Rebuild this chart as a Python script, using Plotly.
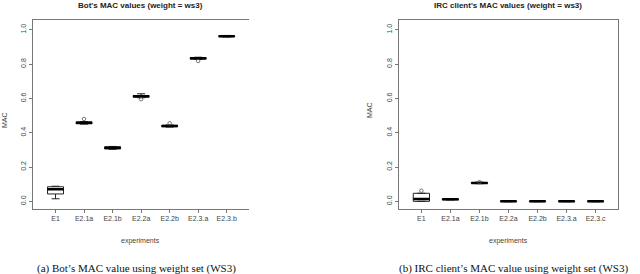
import plotly.graph_objects as go

categories = ["E1", "E2.1a", "E2.1b", "E2.2a", "E2.2b", "E2.3a", "E2.3b"]
tick_labels_a = ["E1", "E2.1a", "E2.1b", "E2.2a", "E2.2b", "E2.3.a", "E2.3.b"]
tick_labels_b = ["E1", "E2.1a", "E2.1b", "E2.2a", "E2.2b", "E2.3.a", "E2.3.c"]

# Panel (a): Bot's MAC values
bot_q1 = [0.043, 0.452, 0.305, 0.607, 0.435, 0.829, 0.960]
bot_med = [0.070, 0.458, 0.312, 0.612, 0.439, 0.834, 0.962]
bot_q3 = [0.085, 0.463, 0.318, 0.617, 0.443, 0.838, 0.965]
bot_lo = [0.015, 0.450, 0.303, 0.604, 0.433, 0.827, 0.958]
bot_hi = [0.088, 0.465, 0.320, 0.627, 0.445, 0.840, 0.967]
bot_out_x = ["E2.1a", "E2.2a", "E2.2b", "E2.3a"]
bot_out_y = [0.480, 0.595, 0.455, 0.818]

# Panel (b): IRC client's MAC values
irc_q1 = [0.000, 0.009, 0.104, -0.002, -0.002, -0.002, -0.002]
irc_med = [0.013, 0.012, 0.107, 0.000, 0.000, 0.000, 0.000]
irc_q3 = [0.047, 0.014, 0.110, 0.001, 0.001, 0.001, 0.001]
irc_lo = [0.000, 0.008, 0.103, -0.002, -0.002, -0.002, -0.002]
irc_hi = [0.047, 0.015, 0.112, 0.001, 0.001, 0.001, 0.001]
irc_out_x = ["E1", "E2.1b"]
irc_out_y = [0.062, 0.112]

y_ticks = [0.0, 0.2, 0.4, 0.6, 0.8, 1.0]

fig = go.Figure()

def add_panel(xa, ya, q1, med, q3, lo, hi, ox, oy):
    fig.add_trace(go.Box(
        x=categories, q1=q1, median=med, q3=q3, lowerfence=lo, upperfence=hi,
        xaxis=xa, yaxis=ya, fillcolor="white", line=dict(color="#222", width=1),
        whiskerwidth=0.5, showlegend=False, hoverinfo="skip"))
    fig.add_trace(go.Box(
        x=categories, q1=med, median=med, q3=med, lowerfence=med, upperfence=med,
        xaxis=xa, yaxis=ya, fillcolor="rgba(0,0,0,0)", line=dict(color="black", width=2.5),
        whiskerwidth=0, showlegend=False, hoverinfo="skip"))
    fig.add_trace(go.Scatter(
        x=ox, y=oy, mode="markers", xaxis=xa, yaxis=ya,
        marker=dict(symbol="circle-open", size=3.5, color="#555", line=dict(width=0.8)),
        showlegend=False, hoverinfo="skip"))

add_panel("x", "y", bot_q1, bot_med, bot_q3, bot_lo, bot_hi, bot_out_x, bot_out_y)
add_panel("x2", "y2", irc_q1, irc_med, irc_q3, irc_lo, irc_hi, irc_out_x, irc_out_y)

axis_font = dict(family="Liberation Sans, Arial, sans-serif", size=7, color="#444")
common_x = dict(range=[-0.78, 6.78], showgrid=False, zeroline=False, showline=True,
                linecolor="#777", linewidth=1, mirror=True, ticks="outside",
                ticklen=3, tickcolor="#777", tickfont=axis_font,
                categoryorder="array", categoryarray=categories)
common_y = dict(range=[-0.045, 1.057], showgrid=False, zeroline=False, showline=True,
                linecolor="#777", linewidth=1, mirror=True, ticks="outside",
                ticklen=3, tickcolor="#777", tickfont=axis_font, tickangle=-90,
                tickvals=y_ticks, ticktext=[f"{v:.1f}" for v in y_ticks])

fig.update_layout(
    width=640, height=274, margin=dict(l=0, r=0, t=0, b=0),
    paper_bgcolor="white", plot_bgcolor="white", boxgap=0.2,
    xaxis=dict(common_x, domain=[0.052, 0.389], anchor="y",
               tickvals=categories, ticktext=tick_labels_a),
    yaxis=dict(common_y, domain=[0.237, 0.927], anchor="x", mirror=False),
    xaxis2=dict(common_x, domain=[0.623, 0.966], anchor="y2",
                tickvals=categories, ticktext=tick_labels_b),
    yaxis2=dict(common_y, domain=[0.237, 0.927], anchor="x2"),
)

title_font = dict(family="Liberation Sans, Arial, sans-serif", size=8, color="#222")
label_font = dict(family="Liberation Sans, Arial, sans-serif", size=7, color="#444")
cap_font = dict(family="Liberation Serif, Times New Roman, serif", size=11, color="#111")

anns = [
    dict(x=140, y=269, text="<b>Bot's MAC values (weight = ws3)</b>", font=title_font),
    dict(x=508, y=269, text="<b>IRC client's MAC values (weight = ws3)</b>", font=title_font),
    dict(x=140, y=33, text="experiments", font=label_font),
    dict(x=508, y=33, text="experiments", font=label_font),
    dict(x=4, y=154, text="MAC", font=label_font, textangle=-90),
    dict(x=370, y=164, text="MAC", font=label_font, textangle=-90),
    dict(x=136, y=6, text="(a) Bot’s MAC value using weight set (WS3)", font=cap_font),
    dict(x=513, y=6, text="(b) IRC client’s MAC value using weight set (WS3)", font=cap_font),
]
for a in anns:
    fig.add_annotation(x=a["x"] / 640, y=a["y"] / 274, xref="paper", yref="paper",
                       text=a["text"], showarrow=False, font=a["font"],
                       textangle=a.get("textangle", 0), xanchor="center",
                       yanchor=a.get("yanchor", "middle"))

fig.write_html("out.html", config={"displayModeBar": False},
               post_script="document.body.style.margin='0';document.body.style.padding='0';")
